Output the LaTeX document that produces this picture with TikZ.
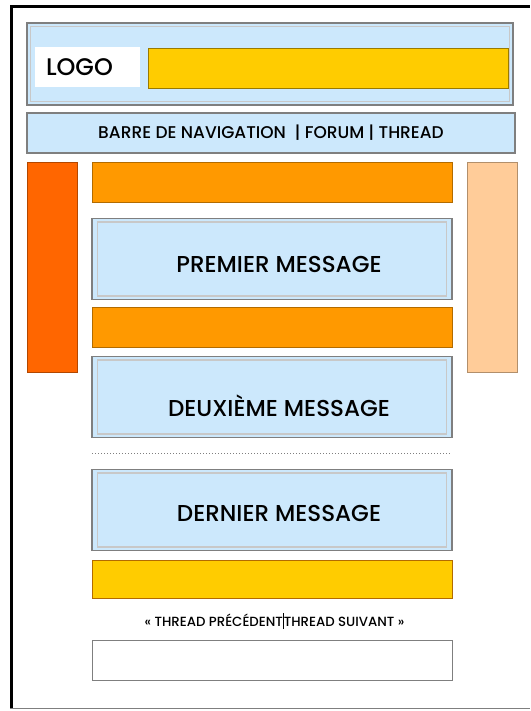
\documentclass[tikz,border=0pt]{standalone}
\usepackage{fontspec}
\setmainfont{Poppins}
\newfontfamily\medfont{Poppins Medium}
\definecolor{paleblue}{HTML}{CCE8FC}
\definecolor{framegray}{HTML}{7F7F7F}
\definecolor{innergray}{HTML}{C8C8C8}
\definecolor{orangebar}{HTML}{FF9900}
\definecolor{redorange}{HTML}{FF6600}
\definecolor{peach}{HTML}{FFCC99}
\definecolor{yellowbar}{HTML}{FFCC00}
\begin{document}
\begin{tikzpicture}
[x=1pt,y=-1pt,
  boxdecorate/.style={shape=rectangle,draw=framegray,line width=1.2pt,inner sep=0pt},%
  bardecorate/.style={shape=rectangle,draw=orangebar!70!black,line width=0.6pt,inner sep=0pt,
    minimum width=360pt,minimum height=40pt},%
  msgdecorate/.style={boxdecorate,fill=paleblue,minimum width=360pt,minimum height=81pt},%
  textdecorate/.style={font=\fontsize{23}{23}\medfont},%
  innerdecorate/.style={draw=innergray,line width=1.5pt}]
\useasboundingbox (0,0) rectangle (530,711);
% page frame
\draw[line width=3pt] (11.5,708) -- (11.5,6.5) -- (530,6.5);
\draw[framegray,line width=1pt] (10,708.5) -- (530,708.5);
% header
\node (header) at (270,64) [boxdecorate,fill=paleblue,minimum width=486pt,minimum height=82pt] {};
\draw[innerdecorate] ([shift={(4,4)}]header.north west) rectangle ([shift={(-4,-4)}]header.south east);
\node (logo) at (87.5,67) [shape=rectangle,fill=white,inner xsep=11pt,inner ysep=0pt,
  text width=83pt,align=left,minimum height=40pt,font=\fontsize{24}{24}\medfont] {LOGO};
\node (banner) at (328,68) [shape=rectangle,fill=yellowbar,draw=yellowbar!60!black,line width=0.6pt,
  minimum width=360pt,minimum height=40pt] {};
% navigation
\node (navbar) at (271,133) [boxdecorate,fill=paleblue,minimum width=488pt,minimum height=40pt,
  font=\fontsize{17}{17}\medfont] {BARRE DE NAVIGATION \ | FORUM | THREAD};
% side columns
\node (leftcol) at (52,267) [shape=rectangle,fill=redorange,draw=redorange!70!black,line width=0.6pt,
  minimum width=50pt,minimum height=210pt] {};
\node (rightcol) at (492,267) [shape=rectangle,fill=peach,draw=peach!70!black,line width=0.6pt,
  minimum width=50pt,minimum height=210pt] {};
% messages and bars
\node (bar1) at (272,182) [bardecorate,fill=orangebar] {};
\node (msg1) at (272,259) [msgdecorate] {};
\node (bar2) at (272,327) [bardecorate,fill=orangebar] {};
\node (msg2) at (272,397) [msgdecorate] {};
\coordinate (dotstart) at (92,453);
\coordinate (dotend) at (450,453);
\draw[framegray,dotted,line width=1pt] (dotstart) -- (dotend);
\node (msg3) at (272,510) [msgdecorate] {};
\foreach \m in {msg1,msg2,msg3}
  \draw[innerdecorate] ([shift={(6,4)}]\m.north west) rectangle ([shift={(-6,-4)}]\m.south east);
\node (msg1text) at ([shift={(7,5)}]msg1.center) [textdecorate] {PREMIER MESSAGE};
\node (msg2text) at ([shift={(7,9)}]msg2.center) [textdecorate] {DEUXIÈME MESSAGE};
\node (msg3text) at ([shift={(7,3)}]msg3.center) [textdecorate] {DERNIER MESSAGE};
\node (bar3) at (272,579) [bardecorate,fill=yellowbar,minimum height=38pt] {};
% thread links
\node (threadnav) at (274.5,621) [font=\fontsize{13.3}{13.3}\medfont] {« THREAD PRÉCÉDENT\rule[-3pt]{0.8pt}{16pt}THREAD SUIVANT »};
\node (footer) at (272,660) [boxdecorate,line width=0.8pt,minimum width=360pt,minimum height=40pt] {};
\end{tikzpicture}
\end{document}
